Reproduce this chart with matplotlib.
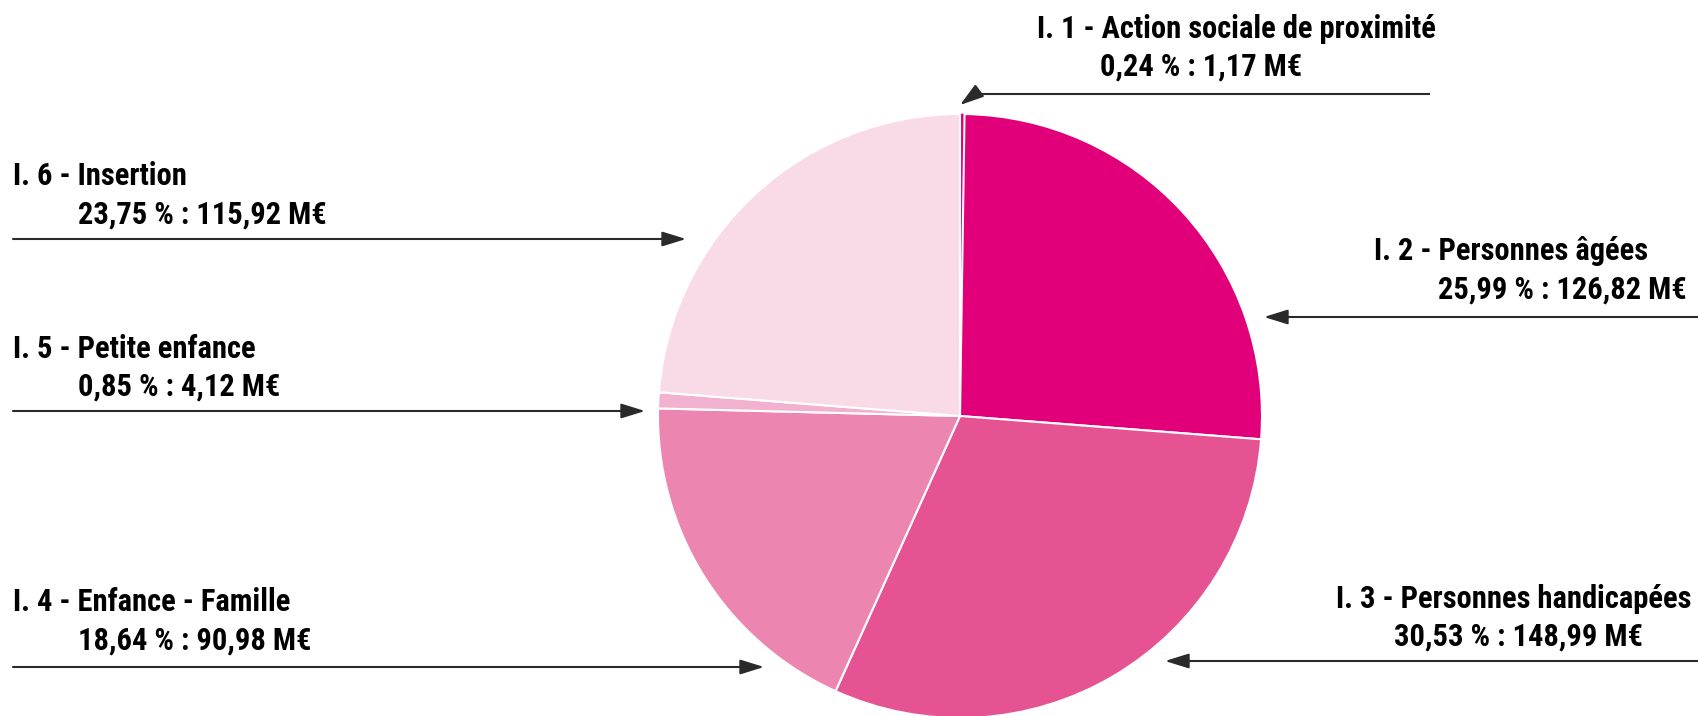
import matplotlib
matplotlib.use("Agg")
import matplotlib.pyplot as plt
from matplotlib import font_manager

# ---- data ----
codes = ["I. 1", "I. 2", "I. 3", "I. 4", "I. 5", "I. 6"]
names = ["Action sociale de proximité", "Personnes âgées", "Personnes handicapées",
         "Enfance - Famille", "Petite enfance", "Insertion"]
percents = [0.24, 25.99, 30.53, 18.64, 0.85, 23.75]
amounts = ["1,17", "126,82", "148,99", "90,98", "4,12", "115,92"]
colors = ["#E2007A", "#E2007A", "#E65393", "#EC86B0", "#F2B1CE", "#F9DBE8"]

W, H = 1699, 716
fig = plt.figure(figsize=(W / 100, H / 100), dpi=100)
ax = fig.add_axes([0, 0, 1, 1])

cx, cy, r = 960, 416, 302
wedges, _ = ax.pie(percents, colors=colors, startangle=90, counterclock=False,
                   center=(cx, H - cy), radius=r,
                   wedgeprops=dict(edgecolor="white", linewidth=1.5))
wedges[0].set_edgecolor(colors[0])
wedges[0].set_linewidth(0.5)
ax.set_xlim(0, W)
ax.set_ylim(0, H)
ax.set_aspect("equal")
ax.axis("off")

installed = {f.name for f in font_manager.fontManager.ttflist}
cands = ["Roboto Condensed", "Liberation Sans Narrow", "Roboto"]
fam = [c for c in cands if c in installed] + ["DejaVu Sans"]
fs = 22

def fmt(p):
    return f"{p:.2f}".replace(".", ",")

# label layout: (x title, y title, x value, y value, line x0, line x1, line y)
layout = [
    (1037, 29, 1100, 67, 1430, 975, 94),
    (1374, 251, 1438, 290, 1699, 1264, 317),
    (1336, 599, 1394, 637, 1699, 1165, 661),
    (13, 602, 78, 641, 13, 764, 667),
    (13, 349, 78, 387, 13, 645, 411),
    (13, 176, 78, 215, 13, 686, 239),
]

lc = "#2a2a2a"
arrow_kw = dict(arrowstyle="-|>,head_length=1.45,head_width=0.45", color=lc,
                lw=1.5, shrinkA=0, shrinkB=0)

for i, (xt, yt, xv, yv, lx0, lx1, ly) in enumerate(layout):
    ax.text(xt, H - yt, f"{codes[i]} - {names[i]}", family=fam, fontsize=fs,
            fontweight="bold", ha="left", va="center")
    ax.text(xv, H - yv, f"{fmt(percents[i])} % : {amounts[i]} M€", family=fam,
            fontsize=fs, fontweight="bold", ha="left", va="center")
    if i == 0:
        ax.plot([lx0, lx1], [H - ly, H - ly], color=lc, lw=1.5,
                solid_capstyle="butt")
        ax.annotate("", xy=(960, H - 105), xytext=(lx1, H - ly),
                    arrowprops=arrow_kw)
    else:
        ax.annotate("", xy=(lx1, H - ly), xytext=(lx0, H - ly),
                    arrowprops=arrow_kw)

fig.savefig("out.png", dpi=100, facecolor="white")
